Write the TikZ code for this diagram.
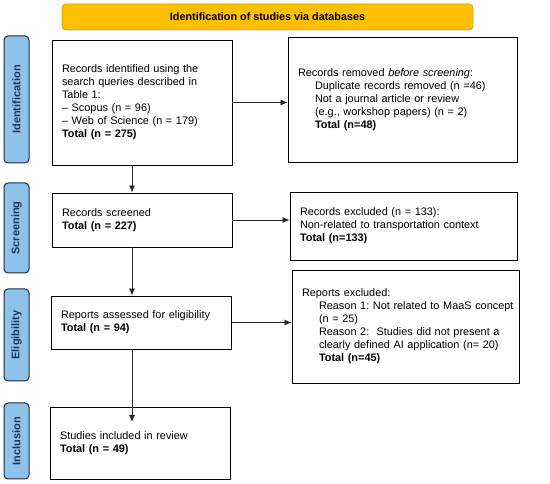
\documentclass[tikz,border=0pt]{standalone}
\usepackage{fontspec}
\setmainfont{Liberation Sans}
\usetikzlibrary{arrows.meta}
\frenchspacing
\newcommand{\indln}{\hspace*{17pt}}
\definecolor{bannerfill}{HTML}{FFC000}
\definecolor{bannerdraw}{HTML}{C9A227}
\definecolor{stagefill}{HTML}{8DC3EB}
\definecolor{stagedraw}{HTML}{1F2A38}
\definecolor{stagetext}{HTML}{1F3556}

\begin{document}
\begin{tikzpicture}[x=1pt,y=-1pt]
	\tikzstyle{box}    = [draw=black, line width=0.9pt, fill=white, align=left, inner sep=0pt, font=\fontsize{10.9}{13}\selectfont]
	\tikzstyle{stage}  = [draw=stagedraw, line width=1pt, fill=stagefill, rounded corners=4pt, rotate=90, minimum height=25pt, inner sep=0pt, text=stagetext, font=\fontsize{11}{13}\selectfont\bfseries]
	\tikzstyle{banner} = [draw=bannerdraw, line width=0.8pt, fill=bannerfill, rounded corners=4pt, minimum width=411pt, minimum height=26pt, font=\fontsize{10.8}{13}\selectfont\bfseries]
	\tikzstyle{arr}    = [-{Latex[length=7pt,width=6pt]}, line width=0.8pt, draw=black!85]

	\useasboundingbox (0,0) rectangle (550,484);

	\node[banner] (title) at (267.5,17) {Identification of studies via databases};

	% stages on the left
	\foreach \name/\txt/\y/\h in {sIdent/Identification/99.5/127, sScreen/Screening/228/90, sElig/Eligibility/335/92, sIncl/Inclusion/441/76}
		\node[stage, minimum width=\h pt] (\name) at (16.5,\y) {\txt};

	% main column
	\node[box, minimum width=180pt, text width=160pt, minimum height=125pt] (records) at (142,102.5) {Records identified using the\\search queries described in\\Table 1:\\-- Scopus (n = 96)\\-- Web of Science (n = 179)\\\textbf{Total (n = 275)}};
	\node[box, minimum width=180pt, text width=160pt, minimum height=54pt] (screened) at (142,220) {Records screened\\\textbf{Total (n = 227)}};
	\node[box, minimum width=180pt, text width=160pt, minimum height=53pt] (assessed) at (141,322.5) {Reports assessed for eligibility\\\textbf{Total (n = 94)}};
	\node[box, minimum width=180pt, text width=160pt, minimum height=72pt] (included) at (140,443) {Studies included in review\\\textbf{Total (n = 49)}};

	% side column
	\node[box, minimum width=229pt, text width=209pt, minimum height=125pt] (removed) at (402.5,99.5) {Records removed \textit{before screening}:\\\indln Duplicate records removed (n =46)\\\indln Not a journal article or review\\\indln (e.g., workshop papers) (n = 2)\\\indln\textbf{Total (n=48)}};
	\node[box, minimum width=227pt, text width=207pt, minimum height=68pt] (excluded) at (403.5,226) {Records excluded (n = 133):\\Non-related to transportation context\\\textbf{Total (n=133)}};
	\node[box, minimum width=227pt, text width=207pt, minimum height=113pt] (rexcluded) at (405.5,326.5) {Reports excluded:\\\indln\mbox{Reason 1: Not related to MaaS concept}\\\indln (n = 25)\\\indln\mbox{Reason 2:\ \ Studies did not present a}\\\indln\mbox{clearly defined AI application (n= 20)}\\\indln\textbf{Total (n=45)}};

	\coordinate (spine) at (132,0);
	\coordinate (tip) at (132,422);

	\draw[arr] (records.south -| spine) -- (screened.north -| spine);
	\draw[arr] (screened.south -| spine) -- (assessed.north -| spine);
	\draw[arr] (assessed.south -| spine) -- (tip);

	\foreach \from/\to in {records/removed, screened/excluded, assessed/rexcluded}
		\draw[arr] (\from.east) -- (\from.east -| \to.west);
\end{tikzpicture}
\end{document}
